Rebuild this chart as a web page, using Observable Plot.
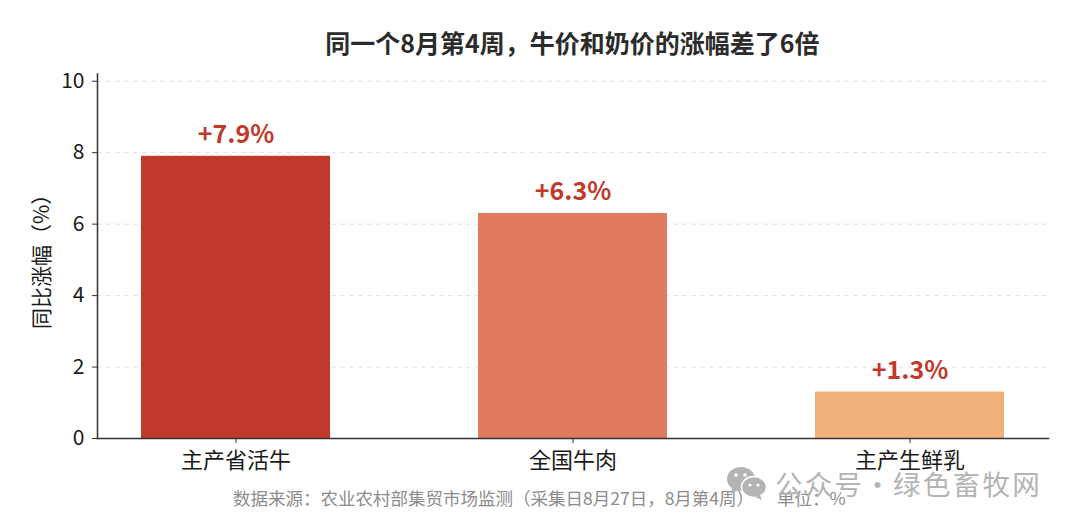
<!DOCTYPE html>
<html><head><meta charset="utf-8">
<script src="https://cdn.jsdelivr.net/npm/d3@7"></script>
<script src="https://cdn.jsdelivr.net/npm/@observablehq/plot@0.6"></script>
<style>
html,body{margin:0;padding:0;background:#fff;width:1080px;height:528px;overflow:hidden;font-family:"Noto Sans CJK SC",sans-serif;}
#wrap{position:relative;width:1080px;height:528px;}
#title{position:absolute;left:0;top:25px;width:1145px;text-align:center;font-size:25px;font-weight:700;color:#2b2b2b;line-height:34px;}
#chart{position:absolute;left:0;top:60px;}
#caption{position:absolute;left:233px;top:486px;font-size:17.5px;color:#8c8c8c;line-height:24px;white-space:nowrap;}
#caption span{margin-left:23px;}
#mark{position:absolute;left:726px;top:465px;display:flex;align-items:center;color:#b4b4b4;font-size:27.5px;letter-spacing:2.3px;word-spacing:-9px;line-height:36px;white-space:nowrap;}
#mark svg{margin-right:7px;}
</style></head><body>
<div id="wrap">
<div id="title">同一个8月第4周，牛价和奶价的涨幅差了6倍</div>
<div id="chart"></div>
<div id="caption">数据来源：农业农村部集贸市场监测（采集日8月27日，8月第4周）<span>单位：%</span></div>
<div id="mark"><svg width="42" height="34" viewBox="0 0 42 34"><ellipse cx="15" cy="13" rx="14" ry="12" fill="#b4b4b4"/><path d="M6 21 L5 28 L12 24 Z" fill="#b4b4b4"/><ellipse cx="28" cy="21" rx="12.5" ry="10.5" fill="#b4b4b4" stroke="#fff" stroke-width="1.5"/><path d="M34 29 L36 34 L29 31 Z" fill="#b4b4b4"/><circle cx="10" cy="9" r="1.8" fill="#fff"/><circle cx="19" cy="9" r="1.8" fill="#fff"/><circle cx="24" cy="19" r="1.6" fill="#fff"/><circle cx="32" cy="19" r="1.6" fill="#fff"/></svg><span>公众号 · 绿色畜牧网</span></div>
</div>
<script>
const categories = ["主产省活牛", "全国牛肉", "主产生鲜乳"];
const growth = [7.9, 6.3, 1.3];
const labels = ["+7.9%", "+6.3%", "+1.3%"];
const colors = ["#C0392B", "#E07B5F", "#F0B27A"];
const yTicks = [0, 2, 4, 6, 8, 10];
const rows = categories.map((c, i) => ({c, v: growth[i], l: labels[i], f: colors[i]}));
const font = '"Noto Sans CJK SC", sans-serif';

const chart = Plot.plot({
  width: 1080, height: 416,
  marginLeft: 97, marginRight: 32, marginTop: 13.6, marginBottom: 38,
  style: {fontFamily: font, background: "#fff", overflow: "visible"},
  x: {domain: categories, paddingInner: 0.44, paddingOuter: 0.13, label: null},
  y: {domain: [0, 10.2], label: null},
  marks: [
    Plot.gridY(yTicks, {stroke: "#e2e2e2", strokeOpacity: 1, strokeDasharray: "5,4"}),
    Plot.barY(rows, {x: "c", y: "v", fill: "f"}),
    Plot.text(rows, {x: "c", y: "v", text: "l", dy: -21, fill: "#C0392B", fontSize: 25, fontWeight: 700}),
    Plot.frame({anchor: "left", stroke: "#333", strokeWidth: 1.5}),
    Plot.frame({anchor: "bottom", stroke: "#333", strokeWidth: 1.5}),
    Plot.axisY(yTicks, {tickSize: 5, tickPadding: 8, fontSize: 21, color: "#1a1a1a", stroke: "#333",
      label: "同比涨幅（%）", labelAnchor: "center", labelArrow: "none", labelOffset: 63}),
    Plot.axisX({tickSize: 5, tickPadding: 9, fontSize: 22, color: "#1a1a1a", stroke: "#333", label: null})
  ]
});
document.getElementById("chart").appendChild(chart);
</script>
</body></html>
